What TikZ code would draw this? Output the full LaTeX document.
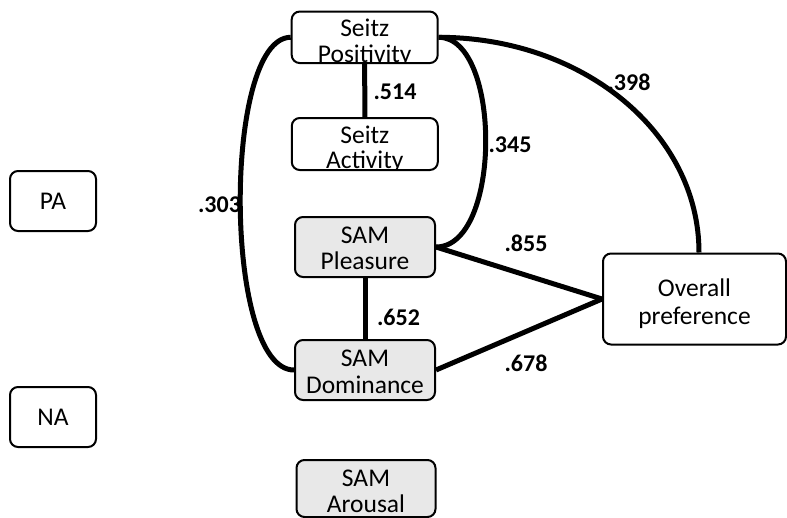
\documentclass[tikz,border=0pt]{standalone}
\usepackage{fontspec}
\setmainfont{Carlito}
\definecolor{boxgray}{RGB}{232,232,232}
% two text lines placed inside a box and clipped to its outline
\newcommand\boxlines[4]{%
  \node[txt,anchor=base] at ([yshift=-#3]path picture bounding box.north) {#1};
  \node[txt,anchor=base] at ([yshift=-#4]path picture bounding box.north) {#2};}
\begin{document}
\begin{tikzpicture}[x=1pt,y=-1pt,
  txt/.style={font=\fontsize{25.5}{27}\selectfont, inner sep=0pt},
  lab/.style={font=\fontsize{24}{27}\selectfont\bfseries, inner sep=0pt},
  boxbase/.style={draw=black, line width=2pt, rounded corners=8pt, inner sep=0pt},
  plainbox/.style={boxbase, fill=white},
  greybox/.style={boxbase, fill=boxgray},
  link/.style={draw=black, line width=5pt}]
\useasboundingbox (0,0) rectangle (787,517);

% variable boxes
\node[plainbox, minimum width=146pt, minimum height=51.5pt,
      path picture={\boxlines{Seitz}{Positivity}{24.5pt}{50.5pt}}] (sp) at (364.7,37.3) {};
\node[plainbox, minimum width=146pt, minimum height=52pt,
      path picture={\boxlines{Seitz}{Activity}{25pt}{50pt}}] (sa) at (364.8,144) {};
\node[greybox, minimum width=140pt, minimum height=60pt,
      path picture={\boxlines{SAM}{Pleasure}{26pt}{52pt}}] (pl) at (365,247) {};
\node[greybox, minimum width=140pt, minimum height=60pt,
      path picture={\boxlines{SAM}{Dominance}{26pt}{53pt}}] (dm) at (365,370) {};
\node[greybox, minimum width=139pt, minimum height=57pt,
      path picture={\boxlines{SAM}{Arousal}{26pt}{52.5pt}}] (ar) at (366,488.5) {};
\node[plainbox, minimum width=86pt, minimum height=60pt, font=\fontsize{25.5}{27}\selectfont] (pa) at (53,201) {PA};
\node[plainbox, minimum width=86pt, minimum height=60pt, font=\fontsize{25.5}{27}\selectfont] (na) at (53,417) {NA};
\node[plainbox, minimum width=183pt, minimum height=91pt,
      path picture={\boxlines{Overall}{preference}{42.5pt}{70.5pt}}] (ov) at (694.5,299) {};

% correlations
\draw[link] (sp) -- (sa);
\draw[link] (pl) -- (dm);
\draw[link] (sp.west) .. controls +(-68,0) and +(-71,0) .. (dm.west);
\draw[link] (sp.east) .. controls +(63,0) and +(66,0) .. (pl.east);
\draw[link] (sp.east) .. controls +(144,0) and +(0,-120) .. ([xshift=4.5pt]ov.north);
\draw[link] (pl.east) -- (ov.west);
\draw[link] (dm.east) -- (ov.west);

% coefficients
\node[lab] (l514) at (395,92) {.514};
\node[lab] (l345) at (510,145) {.345};
\node[lab] (l398) at (629,82) {.398};
\node[lab] (l303) at (219.5,205) {.303};
\node[lab] (l855) at (526,243) {.855};
\node[lab] (l652) at (398.5,317) {.652};
\node[lab] (l678) at (526,363) {.678};
\end{tikzpicture}
\end{document}
